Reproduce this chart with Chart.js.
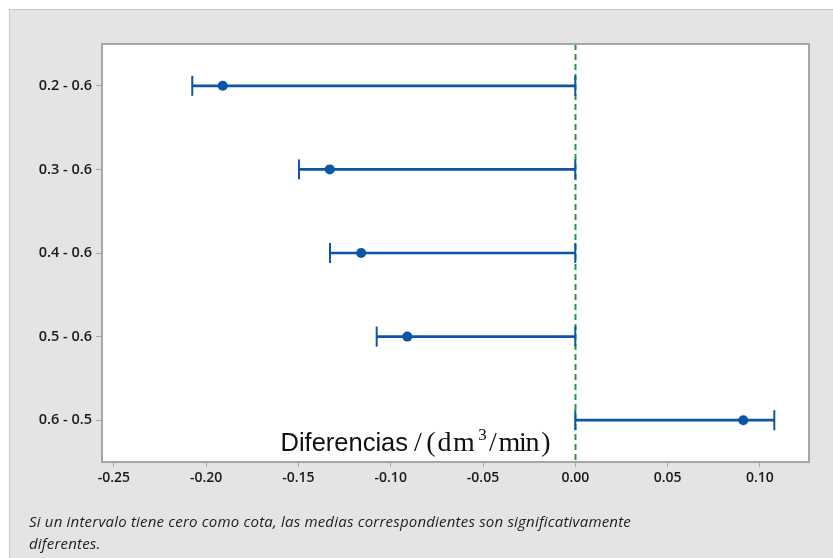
<!DOCTYPE html>
<html>
<head>
<meta charset="utf-8">
<script src="https://cdn.jsdelivr.net/npm/chart.js@4/dist/chart.umd.min.js"></script>
<style>
  html, body { margin: 0; padding: 0; background: #ffffff; }
  #wrap { position: relative; width: 833px; height: 558px; overflow: hidden; }
  #panel { position: absolute; left: 9px; top: 9px; width: 830px; height: 560px;
           background: #e4e4e4; border-left: 1px solid #c8c8c8; border-top: 1px solid #c8c8c8; }
  #chart { position: absolute; left: 0; top: 0; }
  #note { position: absolute; left: 29px; top: 510px; width: 650px;
          font-family: "Open Sans", "Noto Sans", sans-serif; font-style: italic;
          font-size: 15px; line-height: 22px; color: #1e1e1e; letter-spacing: 0.2px; }
</style>
</head>
<body>
<div id="wrap">
  <div id="panel"></div>
  <canvas id="chart" width="833" height="558"></canvas>
  <div id="note">Si un intervalo tiene cero como cota, las medias correspondientes son significativamente<br>diferentes.</div>
</div>
<script>
// Pairwise differences of means with their confidence intervals
const comparisons = ['0.2 - 0.6', '0.3 - 0.6', '0.4 - 0.6', '0.5 - 0.6', '0.6 - 0.5'];
const diffEstimate = [-0.191, -0.133, -0.116, -0.091, 0.091];
const lowerBound   = [-0.2075, -0.1497, -0.1329, -0.1076, 0.0];
const upperBound   = [0.0, 0.0, 0.0, 0.0, 0.1078];
const xTickValues  = [-0.25, -0.20, -0.15, -0.10, -0.05, 0.00, 0.05, 0.10];

const BLUE = '#0b57a6';
const FRAME = '#a6a6a6';

const plotBackground = {
  id: 'plotBackground',
  beforeDraw(chart) {
    const { ctx, chartArea: a } = chart;
    ctx.save();
    ctx.fillStyle = '#ffffff';
    ctx.fillRect(a.left, a.top, a.right - a.left, a.bottom - a.top);
    ctx.restore();
  }
};

// Dashed reference line at zero difference
const zeroLine = {
  id: 'zeroLine',
  beforeDatasetsDraw(chart) {
    const { ctx, chartArea: a, scales } = chart;
    const x = Math.round(scales.x.getPixelForValue(0)) + 0.5;
    ctx.save();
    ctx.strokeStyle = '#23993a';
    ctx.lineWidth = 2;
    ctx.setLineDash([6, 4]);
    ctx.beginPath();
    ctx.moveTo(x, a.top);
    ctx.lineTo(x, a.bottom);
    ctx.stroke();
    ctx.restore();
  }
};

// Frame around the plot area and the axis caption (text + math-set unit)
const frameAndTitle = {
  id: 'frameAndTitle',
  afterDraw(chart) {
    const { ctx, chartArea: a } = chart;
    ctx.save();
    ctx.strokeStyle = FRAME;
    ctx.lineWidth = 2;
    ctx.strokeRect(a.left, a.top, a.right - a.left, a.bottom - a.top);

    ctx.fillStyle = '#111111';
    ctx.textBaseline = 'alphabetic';
    const base = 450.5;
    ctx.textAlign = 'left';
    ctx.font = '25.5px "Liberation Sans", Arial, sans-serif';
    ctx.fillText('Diferencias', 280.5, base);

    // unit glyphs, each centred on its own slot
    const serif = '"Liberation Serif", "DejaVu Serif", serif';
    const glyphs = [
      ['/', 418, 28, 0], ['(', 431, 28, 0], ['d', 444.5, 28, 0], ['m', 464, 28, 0],
      ['3', 482.5, 17, -11], ['/', 493, 28, 0], ['m', 509.5, 28, 0], ['i', 523, 28, 0],
      ['n', 532.5, 28, 0], [')', 546, 28, 0]
    ];
    ctx.textAlign = 'center';
    glyphs.forEach(([t, cx, size, dy]) => {
      ctx.font = size + 'px ' + serif;
      ctx.fillText(t, cx, base + dy);
    });
    ctx.restore();
  }
};

new Chart(document.getElementById('chart'), {
  type: 'bar',
  data: {
    labels: comparisons,
    datasets: [
      {
        label: 'Intervalo',
        data: comparisons.map((_, i) => [lowerBound[i], upperBound[i]]),
        backgroundColor: BLUE,
        borderWidth: 0,
        barThickness: 2,
        order: 3
      },
      {
        type: 'line',
        label: 'Límite inferior',
        data: lowerBound,
        showLine: false,
        pointStyle: 'line',
        rotation: 90,
        pointRadius: 10,
        pointBorderWidth: 2,
        pointBorderColor: BLUE,
        order: 2
      },
      {
        type: 'line',
        label: 'Límite superior',
        data: upperBound,
        showLine: false,
        pointStyle: 'line',
        rotation: 90,
        pointRadius: 10,
        pointBorderWidth: 2,
        pointBorderColor: BLUE,
        order: 2
      },
      {
        type: 'line',
        label: 'Diferencia',
        data: diffEstimate,
        showLine: false,
        pointStyle: 'circle',
        pointRadius: 5,
        pointBorderWidth: 0,
        pointBackgroundColor: BLUE,
        order: 1
      }
    ]
  },
  options: {
    indexAxis: 'y',
    responsive: false,
    devicePixelRatio: 1,
    animation: false,
    layout: { padding: { left: 0, top: 44, right: 24, bottom: 0 } },
    plugins: { legend: { display: false }, tooltip: { enabled: false } },
    scales: {
      x: {
        type: 'linear',
        min: -0.2564,
        max: 0.1266,
        afterBuildTicks(scale) { scale.ticks = xTickValues.map(v => ({ value: v })); },
        afterFit(scale) { scale.height = 96; },
        border: { display: false },
        grid: { drawOnChartArea: false, drawTicks: true, tickLength: 5, color: FRAME, lineWidth: 1 },
        ticks: {
          padding: 3,
          color: '#1a1a1a',
          font: { family: '"Open Sans", "Noto Sans", sans-serif', size: 14, weight: '600' },
          callback: v => v.toFixed(2)
        }
      },
      y: {
        type: 'category',
        offset: true,
        afterFit(scale) { scale.width = 102; },
        border: { display: false },
        grid: { drawOnChartArea: false, drawTicks: true, tickLength: 6, color: FRAME, lineWidth: 1, offset: false },
        ticks: {
          padding: 4,
          color: '#1a1a1a',
          font: { family: '"Open Sans", "Noto Sans", sans-serif', size: 14.5, weight: '600' }
        }
      }
    }
  },
  plugins: [plotBackground, zeroLine, frameAndTitle]
});
</script>
</body>
</html>
